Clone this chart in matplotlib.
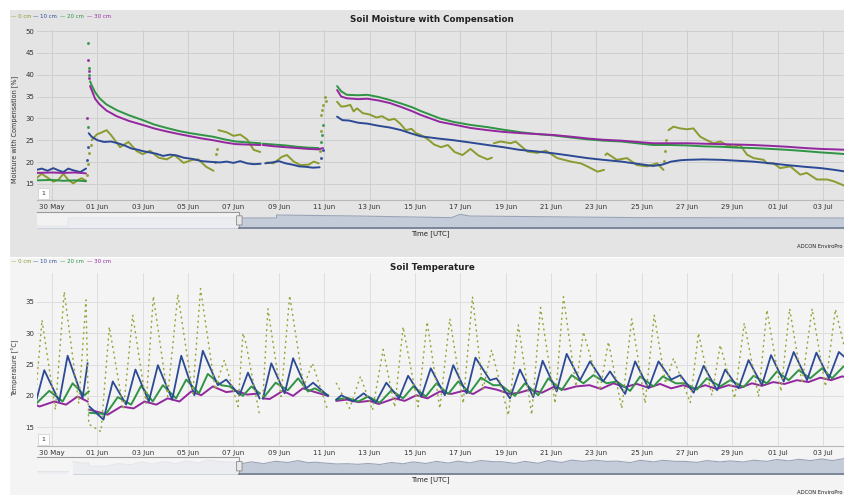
import numpy as np
import matplotlib.pyplot as plt
from matplotlib.patches import Rectangle, FancyBboxPatch

nan = np.nan
W, H = 845, 495

# x axis: days since 30 May 00:00 UTC
tick_days = list(range(0, 35, 2))
tick_labels = ["30 May", "01 Jun", "03 Jun", "05 Jun", "07 Jun", "09 Jun", "11 Jun",
               "13 Jun", "15 Jun", "17 Jun", "19 Jun", "21 Jun", "23 Jun", "25 Jun",
               "27 Jun", "29 Jun", "01 Jul", "03 Jul"]
series_names = ["0 cm", "10 cm", "20 cm", "30 cm"]
series_colors = ["#8c9b30", "#2c4a94", "#2f9444", "#93279f"]

# ---- soil moisture with compensation [%] : (day, value) ----
m0 = [(-0.68, 16.3), (-0.46, 17.3), (-0.16, 16.3), (0.06, 15.5), (0.28, 15.9), (0.5, 17.3),
      (0.72, 15.9), (0.94, 15.1), (1.16, 15.9), (1.31, 16.3), (1.5, 15.7), (nan, nan),
      (1.75, 25.0), (1.97, 26.3), (2.2, 26.8), (2.41, 27.3), (2.63, 26.0), (3.0, 23.4),
      (3.37, 24.6), (3.74, 22.5), (4.0, 21.8), (4.32, 22.6), (4.7, 21.0), (5.06, 20.6),
      (5.4, 21.6), (5.8, 19.8), (6.2, 20.5), (6.45, 20.6), (6.8, 18.9), (7.12, 18.0), (nan, nan),
      (7.34, 27.3), (7.71, 26.8), (8.0, 26.0), (8.3, 26.3), (8.6, 25.2), (8.89, 22.8),
      (9.18, 22.3), (nan, nan),
      (9.47, 19.9), (9.77, 19.7), (10.14, 21.2), (10.36, 21.6), (10.66, 20.1), (10.95, 19.3),
      (11.32, 19.4), (11.54, 20.1), (11.76, 19.7), (nan, nan),
      (12.57, 33.8), (12.75, 32.7), (12.95, 32.8), (13.15, 33.1), (13.3, 31.6), (13.45, 32.3),
      (13.7, 31.2), (14.0, 30.9), (14.3, 30.2), (14.55, 30.5), (14.85, 29.6), (15.1, 29.9),
      (15.35, 28.8), (15.6, 27.3), (15.85, 27.6), (16.05, 26.6), (16.25, 26.2), (16.55, 25.3),
      (16.85, 24.0), (17.15, 23.4), (17.45, 23.9), (17.75, 22.3), (18.1, 21.6), (18.45, 23.0),
      (18.8, 21.5), (19.2, 20.6), (19.4, 21.0), (nan, nan),
      (19.48, 24.3), (19.78, 24.7), (20.22, 24.3), (20.44, 24.7), (20.96, 22.4), (21.4, 22.1),
      (21.77, 22.6), (22.28, 20.9), (22.87, 20.1), (23.31, 19.7), (23.6, 19.0), (24.05, 17.8),
      (24.34, 18.2), (nan, nan),
      (24.4, 21.6), (24.47, 22.0), (24.9, 20.5), (25.35, 20.9), (25.79, 19.3), (26.23, 19.0),
      (26.67, 19.7), (26.96, 18.2), (nan, nan),
      (27.18, 27.3), (27.4, 28.1), (27.7, 27.7), (27.99, 27.5), (28.28, 27.7), (28.58, 25.8),
      (28.87, 25.0), (29.17, 24.3), (29.46, 24.7), (29.75, 23.9), (30.05, 23.5), (30.34, 23.9),
      (30.64, 21.7), (30.93, 20.9), (31.37, 20.5), (31.52, 19.7), (31.81, 19.7), (32.1, 18.6),
      (32.55, 19.0), (32.99, 17.1), (33.28, 17.5), (33.72, 16.0), (34.17, 16.0), (34.46, 15.6),
      (34.97, 14.5)]
m10 = [(-0.68, 18.2), (-0.45, 18.5), (-0.2, 18.0), (0.06, 18.6), (0.28, 18.1), (0.5, 17.7),
       (0.72, 18.5), (0.94, 18.1), (1.25, 17.7), (1.5, 18.5), (nan, nan),
       (1.62, 26.6), (1.75, 25.8), (2.0, 25.0), (2.3, 24.6), (2.6, 24.7), (2.9, 24.3),
       (3.2, 23.8), (3.5, 23.1), (3.8, 22.8), (4.0, 22.5), (4.3, 22.2), (4.6, 21.9), (4.9, 21.4),
       (5.2, 21.7), (5.5, 21.5), (5.8, 21.0), (6.2, 20.7), (6.6, 20.2), (7.1, 20.0), (7.4, 19.9),
       (7.7, 20.1), (8.0, 19.8), (8.3, 20.2), (8.6, 19.7), (8.9, 19.5), (9.2, 19.6), (nan, nan),
       (9.4, 19.7), (9.7, 19.9), (10.0, 20.2), (10.3, 19.7), (10.6, 19.4), (10.9, 19.0),
       (11.2, 18.9), (11.5, 18.7), (11.8, 18.8), (nan, nan),
       (12.57, 30.4), (12.8, 29.6), (13.1, 29.5), (13.5, 29.0), (13.9, 28.8), (14.4, 28.3),
       (14.9, 27.9), (15.4, 27.3), (15.8, 26.6), (16.25, 25.9), (17.0, 25.4), (17.7, 25.0),
       (18.4, 24.5), (19.2, 23.9), (19.9, 23.4), (20.6, 22.8), (21.4, 22.4), (22.1, 22.0),
       (22.8, 21.5), (23.6, 20.9), (24.3, 20.5), (25.1, 20.1), (25.8, 19.6), (26.5, 19.1),
       (26.9, 19.4), (27.3, 20.1), (27.7, 20.4), (28.0, 20.5), (28.7, 20.6), (29.5, 20.5),
       (30.2, 20.3), (30.9, 20.1), (31.7, 19.7), (32.4, 19.3), (33.2, 18.9), (33.9, 18.6),
       (34.5, 18.2), (35.0, 17.8)]
m20 = [(-0.68, 15.8), (0.0, 15.9), (0.5, 15.7), (1.0, 15.8), (1.5, 15.6), (nan, nan),
       (1.68, 38.5), (1.75, 37.6), (1.9, 36.0), (2.1, 34.6), (2.4, 33.2), (2.85, 31.9),
       (3.4, 30.7), (4.0, 29.6), (4.5, 28.6), (5.06, 27.8), (5.6, 27.1), (6.1, 26.6), (6.6, 26.2),
       (7.1, 25.8), (7.6, 25.2), (8.1, 24.7), (8.6, 24.5), (9.2, 24.3), (nan, nan),
       (9.3, 24.2), (9.8, 24.0), (10.3, 23.8), (10.8, 23.5), (11.3, 23.3), (11.75, 23.2), (nan, nan),
       (12.57, 37.4), (12.75, 36.2), (13.0, 35.4), (13.5, 35.3), (13.9, 35.4), (14.4, 34.9),
       (14.9, 34.2), (15.4, 33.4), (15.9, 32.5), (16.25, 31.7), (17.1, 30.0), (17.7, 29.2),
       (18.45, 28.5), (19.2, 28.0), (19.9, 27.4), (20.7, 26.8), (21.4, 26.4), (22.1, 26.1),
       (22.9, 25.6), (23.6, 25.2), (24.3, 24.9), (25.1, 24.7), (25.8, 24.3), (26.5, 23.9),
       (27.3, 23.9), (28.0, 23.8), (28.7, 23.6), (29.5, 23.5), (30.2, 23.3), (30.9, 23.2),
       (31.7, 23.0), (32.4, 22.8), (33.2, 22.5), (33.9, 22.2), (34.5, 22.0), (35.0, 21.8)]
m30 = [(-0.68, 17.5), (0.0, 17.6), (0.5, 17.5), (1.0, 17.6), (1.5, 17.4), (nan, nan),
       (1.68, 37.4), (1.75, 36.5), (1.9, 34.5), (2.1, 33.2), (2.4, 31.8), (2.85, 30.5),
       (3.4, 29.4), (4.0, 28.5), (4.5, 27.7), (5.06, 27.0), (5.6, 26.4), (6.1, 25.9), (6.6, 25.4),
       (7.1, 25.0), (7.6, 24.5), (8.1, 24.1), (8.6, 24.0), (9.2, 23.9), (nan, nan),
       (9.3, 23.9), (9.8, 23.6), (10.3, 23.4), (10.8, 23.2), (11.3, 23.0), (11.75, 22.9),
       (11.95, 23.2), (nan, nan),
       (12.57, 36.5), (12.75, 35.0), (13.0, 34.6), (13.5, 34.4), (13.9, 34.5), (14.4, 34.1),
       (14.9, 33.5), (15.4, 32.6), (15.9, 31.6), (16.25, 30.8), (17.1, 29.2), (17.7, 28.6),
       (18.45, 27.8), (19.2, 27.3), (19.9, 26.9), (20.7, 26.6), (21.4, 26.4), (22.1, 26.2),
       (22.9, 25.8), (23.6, 25.4), (24.3, 25.1), (25.1, 24.9), (25.8, 24.6), (26.5, 24.3),
       (27.3, 24.3), (28.0, 24.3), (28.7, 24.2), (29.5, 24.1), (30.2, 24.0), (30.9, 23.9),
       (31.7, 23.7), (32.4, 23.5), (33.2, 23.2), (33.9, 23.0), (34.5, 22.9), (35.0, 22.8)]
# sparse readings during the rain jumps
m0_jump = [(1.55, 17.0), (1.6, 19.5), (1.65, 22.0), (1.7, 23.8), (7.18, 20.0), (7.22, 21.8),
           (7.27, 23.0), (11.82, 22.5), (11.85, 27.0), (11.88, 30.8), (11.9, 32.0),
           (11.95, 33.0), (12.05, 34.9), (12.1, 34.0), (26.99, 20.2), (27.03, 22.5),
           (27.07, 25.0)]
m10_jump = [(1.55, 20.5), (1.58, 23.5), (11.88, 21.0), (11.95, 22.8)]
m20_jump = [(1.58, 28.0), (1.6, 47.3), (1.62, 41.5), (1.64, 40.0), (11.88, 24.5),
            (11.92, 26.3), (11.97, 28.4)]
m30_jump = [(1.56, 30.0), (1.6, 43.3), (1.62, 40.8), (1.64, 39.2)]

# ---- soil temperature [deg C] : (day, value) ----
t0 = [(-0.72, 20.0), (-0.44, 32.1), (0.15, 17.8), (0.54, 36.6), (1.18, 18.8), (1.5, 35.3),
      (1.62, 15.5), (2.16, 14.3), (2.53, 31.0), (3.15, 17.8), (3.56, 32.9), (4.15, 18.8),
      (4.47, 35.9), (5.1, 19.9), (5.55, 36.2), (6.21, 20.4), (6.55, 37.1), (7.2, 21.0),
      (7.35, 23.0), (7.6, 25.7), (8.2, 18.3), (8.42, 30.0), (8.55, 28.4), (9.15, 17.0), (nan, nan),
      (9.3, 19.9), (9.52, 33.9), (10.1, 19.9), (10.48, 36.0), (11.1, 21.5), (11.48, 25.2),
      (12.15, 17.8), (nan, nan),
      (12.54, 22.0), (13.12, 18.0), (13.6, 23.1), (14.13, 17.7), (14.6, 27.4), (15.11, 18.2),
      (15.48, 31.0), (16.14, 18.3), (16.54, 31.8), (17.1, 18.0), (17.54, 32.3), (18.13, 18.8),
      (18.54, 35.8), (19.0, 21.0), (19.38, 27.3), (20.12, 16.9), (20.56, 31.3), (21.15, 17.0),
      (21.54, 34.1), (22.18, 18.8), (22.55, 35.8), (23.1, 21.5), (23.43, 30.2), (24.16, 20.9),
      (24.53, 28.6), (25.12, 18.0), (25.56, 32.3), (26.15, 18.8), (26.55, 32.9), (27.05, 22.0),
      (27.4, 26.0), (28.14, 18.9), (28.5, 30.0), (29.09, 20.1), (29.46, 28.1), (30.1, 19.6),
      (30.52, 31.6), (31.15, 19.9), (31.52, 33.7), (32.14, 20.7), (32.52, 33.9), (33.07, 22.0),
      (33.51, 33.9), (34.1, 21.5), (34.54, 33.8), (35.0, 26.8)]
t10 = [(-0.74, 18.6), (-0.34, 24.1), (0.32, 19.1), (0.69, 26.4), (1.35, 19.6), (1.57, 25.2),
       (nan, nan),
       (1.65, 18.3), (2.27, 16.2), (2.68, 22.3), (3.27, 18.6), (3.68, 24.2), (4.27, 19.1),
       (4.67, 24.9), (5.3, 19.4), (5.7, 26.4), (6.28, 20.1), (6.65, 27.2), (7.31, 21.7),
       (7.68, 22.6), (8.27, 20.1), (8.64, 23.7), (9.15, 19.6), (nan, nan),
       (9.3, 19.6), (9.67, 25.2), (10.26, 20.4), (10.63, 26.0), (11.21, 21.2), (11.51, 22.1),
       (12.17, 20.0), (nan, nan),
       (12.54, 19.4), (12.76, 20.1), (13.27, 19.1), (13.74, 20.4), (14.27, 18.9), (14.74, 22.1),
       (15.3, 19.6), (15.7, 23.2), (16.29, 19.9), (16.7, 24.4), (17.32, 20.1), (17.69, 24.9),
       (18.28, 20.4), (18.67, 26.1), (19.31, 22.5), (19.6, 22.8), (20.19, 19.6), (20.63, 24.2),
       (21.22, 19.8), (21.63, 25.6), (22.25, 20.7), (22.69, 26.7), (23.28, 22.5), (23.72, 25.5),
       (24.3, 22.3), (24.6, 23.9), (25.27, 20.3), (25.71, 25.5), (26.3, 21.2), (26.74, 25.5),
       (27.3, 22.6), (27.7, 23.3), (28.29, 20.5), (28.73, 24.8), (29.32, 20.9), (29.68, 24.2),
       (30.27, 21.2), (30.71, 25.7), (31.3, 21.7), (31.7, 26.5), (32.26, 22.3), (32.7, 27.0),
       (33.29, 22.5), (33.7, 26.9), (34.25, 22.8), (34.69, 27.0), (35.0, 26.0)]
t20 = [(-0.74, 18.6), (-0.12, 20.8), (0.47, 19.1), (0.91, 22.0), (1.43, 20.1), (1.62, 20.7),
       (nan, nan),
       (1.65, 17.3), (2.38, 17.1), (2.9, 19.8), (3.49, 18.6), (3.93, 21.6), (4.44, 19.1),
       (4.89, 21.7), (5.47, 19.6), (5.92, 22.6), (6.48, 20.4), (6.87, 23.5), (7.46, 21.7),
       (7.83, 21.5), (8.42, 20.0), (8.79, 21.5), (9.15, 20.4), (nan, nan),
       (9.3, 19.6), (9.86, 22.1), (10.4, 20.9), (10.85, 22.8), (11.29, 20.7), (11.58, 21.2),
       (12.17, 20.1), (nan, nan),
       (12.54, 19.4), (13.0, 19.7), (13.5, 19.1), (13.94, 19.9), (14.45, 18.9), (14.97, 20.9),
       (15.48, 19.6), (15.92, 21.5), (16.48, 19.9), (16.95, 22.0), (17.47, 20.3), (17.91, 22.3),
       (18.42, 20.5), (18.91, 22.9), (19.45, 21.7), (19.8, 21.7), (20.41, 20.0), (20.85, 22.0),
       (21.44, 20.1), (21.88, 22.8), (22.47, 20.9), (22.91, 23.3), (23.43, 22.0), (23.87, 23.3),
       (24.46, 22.0), (24.9, 22.3), (25.49, 20.8), (25.93, 23.1), (26.52, 21.5), (26.93, 23.1),
       (27.5, 22.0), (27.9, 22.0), (28.43, 21.0), (28.87, 22.8), (29.46, 21.5), (29.9, 22.5),
       (30.49, 21.4), (30.93, 23.2), (31.52, 22.0), (31.96, 23.9), (32.48, 22.5), (32.92, 24.1),
       (33.43, 22.8), (33.95, 24.4), (34.39, 22.8), (34.9, 24.7), (35.0, 24.6)]
t30 = [(-0.74, 18.6), (-0.55, 18.3), (0.1, 19.1), (0.62, 18.6), (1.13, 19.9), (1.57, 19.1),
       (nan, nan),
       (1.65, 17.8), (2.46, 17.0), (3.05, 18.3), (3.6, 18.0), (4.08, 19.1), (4.6, 18.6),
       (5.1, 19.6), (5.62, 19.1), (6.14, 20.7), (6.58, 20.1), (7.09, 21.5), (7.68, 20.6),
       (8.12, 20.8), (8.6, 20.2), (9.15, 20.4), (nan, nan),
       (9.3, 19.6), (9.6, 19.5), (10.18, 20.8), (10.63, 20.0), (11.06, 21.2), (11.6, 20.6),
       (12.17, 20.0), (nan, nan),
       (12.54, 19.2), (13.0, 19.4), (13.5, 19.0), (14.0, 19.2), (14.4, 18.7), (15.11, 19.6),
       (15.55, 19.2), (16.07, 20.1), (16.55, 19.6), (17.1, 20.7), (17.6, 20.3), (18.13, 20.8),
       (18.57, 20.3), (19.09, 21.4), (19.6, 21.0), (20.19, 20.3), (20.6, 20.5), (21.07, 21.0),
       (21.6, 20.5), (22.1, 21.4), (22.6, 21.0), (23.1, 21.5), (23.7, 21.7), (24.2, 21.1),
       (24.75, 22.0), (25.25, 21.4), (25.78, 21.9), (26.3, 21.3), (26.81, 21.9), (27.3, 21.2),
       (27.84, 21.7), (28.3, 21.1), (28.8, 21.7), (29.3, 21.1), (29.83, 21.7), (30.35, 21.3),
       (30.86, 22.0), (31.3, 21.6), (31.8, 22.2), (32.3, 21.9), (32.84, 22.5), (33.35, 22.2),
       (33.87, 22.9), (34.35, 22.5), (34.83, 23.1), (35.0, 23.0)]

# navigator outlines (0 = bottom, 1 = top of navigator strip)
nav_m_day = [-0.67, 0.72, 0.72, 9.9, 9.9, 13.5, 17.6, 18.0, 18.4, 26.0, 35.0]
nav_m_val = [0.13, 0.13, 0.62, 0.62, 0.80, 0.74, 0.64, 0.84, 0.74, 0.64, 0.62]
nav_t_stub_day = [-0.67, 0.72]
nav_t_stub_val = [12.7, 12.7]

HANDLE_DAY = 8.26
X0, X1 = -0.66, 35.05


def fx(px):
    return px / W


def fy(py):
    return 1 - py / H


def box(left, top, right, bottom):
    return [fx(left), fy(bottom), (right - left) / W, (bottom - top) / H]


def arr(pairs):
    a = np.array(pairs, dtype=float)
    return a[:, 0], a[:, 1]


def style_main(ax, ylim, yticks, bg, grid):
    ax.set_xlim(X0, X1)
    ax.set_ylim(*ylim)
    ax.set_facecolor(bg)
    ax.set_xticks(tick_days)
    ax.set_xticklabels(tick_labels)
    ax.set_yticks(yticks)
    ax.grid(True, color=grid, lw=0.7)
    ax.set_axisbelow(True)
    for s in ("top", "right", "left"):
        ax.spines[s].set_visible(False)
    ax.spines["bottom"].set_color("#b8b8b8")
    ax.spines["bottom"].set_linewidth(0.8)
    ax.tick_params(length=0, labelsize=5, colors="#333333")
    ax.tick_params(axis="x", pad=3)
    ax.tick_params(axis="y", pad=2)


def legend_row(y):
    xs = [11, 33.5, 60, 87]
    for x, name, c in zip(xs, series_names, series_colors):
        fig.text(fx(x), fy(y), "— " + name, color=c, fontsize=3.9, va="center", ha="left")


def navigator(rect, bg, draw):
    nav = fig.add_axes(rect)
    nav.set_xlim(X0, X1)
    nav.set_facecolor(bg)
    nav.set_xticks([])
    nav.set_yticks([])
    for s in nav.spines.values():
        s.set_visible(False)
    draw(nav)
    nav.axvspan(X0, HANDLE_DAY, color="#f6f6f7", alpha=0.8, lw=0, zorder=3)
    nav.plot([X0, HANDLE_DAY, HANDLE_DAY], [1, 1, 0], transform=nav.get_xaxis_transform(),
             color="#9a9a9a", lw=0.8, zorder=4, clip_on=False)
    nav.plot([HANDLE_DAY, X1], [0, 0], transform=nav.get_xaxis_transform(),
             color="#6f7a90", lw=1.2, zorder=4, clip_on=False)
    hb = FancyBboxPatch((HANDLE_DAY - 0.1, 0.2), 0.2, 0.55, boxstyle="round,pad=0.02",
                        transform=nav.get_xaxis_transform(), fc="#e8e8e8", ec="#8a8a8a",
                        lw=0.6, zorder=5, mutation_aspect=0.1)
    nav.add_patch(hb)
    return nav


fig = plt.figure(figsize=(W / 100, H / 100), dpi=100)
fig.patch.set_facecolor("white")
fig.patches.append(Rectangle((fx(10), fy(257)), 1 - fx(10), (257 - 10) / H,
                             transform=fig.transFigure, fc="#e4e4e4", ec="none", zorder=-5))
fig.patches.append(Rectangle((fx(10), fy(495)), 1 - fx(10), (495 - 258) / H,
                             transform=fig.transFigure, fc="#f4f4f4", ec="none", zorder=-5))

# ---------------- top: soil moisture ----------------
ax1 = fig.add_axes(box(37, 30.2, 847, 200))
style_main(ax1, (11.3, 50.2), [15, 20, 25, 30, 35, 40, 45, 50], "#e4e4e4", "#cfcfcf")
for pairs, jump, c in zip([m0, m10, m20, m30], [m0_jump, m10_jump, m20_jump, m30_jump],
                          series_colors):
    x, y = arr(pairs)
    ax1.plot(x, y, color=c, lw=1.4, solid_capstyle="round")
    jx, jy = arr(jump)
    ax1.plot(jx, jy, ls="none", marker="o", ms=1.2, color=c, alpha=0.8)

fig.text(fx(432), fy(20), "Soil Moisture with Compensation", ha="center", va="center",
         fontsize=6.3, fontweight="bold", color="#222222")
legend_row(16.5)
fig.text(fx(15), fy(129), "Moisture with Compensation [%]", rotation=90, ha="center",
         va="center", fontsize=4.7, color="#333333")
fig.text(fx(43.5), fy(193.5), "1", fontsize=4.5, ha="center", va="center", color="#333333",
         bbox=dict(boxstyle="square,pad=0.5", fc="white", ec="#cccccc", lw=0.5))


def draw_nav_m(nav):
    nav.set_ylim(0, 1)
    nav.fill_between(nav_m_day, 0, nav_m_val, color="#c5ccd9", lw=0)
    nav.plot(nav_m_day, nav_m_val, color="#9aa4b8", lw=0.8)


navigator(box(37, 211.7, 847, 228.3), "#e4e4e4", draw_nav_m)
fig.text(fx(430), fy(233.5), "Time [UTC]", ha="center", va="center", fontsize=5,
         color="#222222")
fig.text(fx(843), fy(246.5), "ADCON EnviroPro", ha="right", va="center", fontsize=3.8,
         color="#222222")

# ---------------- bottom: soil temperature ----------------
ax2 = fig.add_axes(box(37, 273, 847, 446))
style_main(ax2, (12.0, 39.6), [15, 20, 25, 30, 35], "#f4f4f4", "#dedede")
x, y = arr(t30)
ax2.plot(x, y, color=series_colors[3], lw=1.4)
x, y = arr(t20)
ax2.plot(x, y, color=series_colors[2], lw=1.4)
x, y = arr(t10)
ax2.plot(x, y, color=series_colors[1], lw=1.3)
x, y = arr(t0)
ax2.plot(x, y, color="#98a63c", lw=1.1, ls=(0, (0.6, 3.0)), dash_capstyle="round")

fig.text(fx(432), fy(267), "Soil Temperature", ha="center", va="center",
         fontsize=6.3, fontweight="bold", color="#222222")
legend_row(261.5)
fig.text(fx(15), fy(368), "Temperature [°C]", rotation=90, ha="center",
         va="center", fontsize=4.7, color="#333333")
fig.text(fx(43.5), fy(439.5), "1", fontsize=4.5, ha="center", va="center", color="#333333",
         bbox=dict(boxstyle="square,pad=0.5", fc="white", ec="#cccccc", lw=0.5))


def draw_nav_t(nav):
    nav.set_ylim(9.1, 26.1)
    d, v = arr(t20)
    keep = ~np.isnan(d) & (d >= 0.72)
    d, v = d[keep], v[keep]
    nav.fill_between(d, 9.1, v, color="#c5ccd9", lw=0)
    nav.plot(d, v, color="#9aa4b8", lw=0.8)
    nav.fill_between(nav_t_stub_day, 9.1, nav_t_stub_val, color="#c5ccd9", lw=0)
    nav.plot(nav_t_stub_day, nav_t_stub_val, color="#9aa4b8", lw=0.8)


navigator(box(37, 457.3, 847, 474.3), "#f4f4f4", draw_nav_t)
fig.text(fx(430), fy(479.5), "Time [UTC]", ha="center", va="center", fontsize=5,
         color="#222222")
fig.text(fx(843), fy(492.5), "ADCON EnviroPro", ha="right", va="center", fontsize=3.8,
         color="#222222")

fig.savefig("out.png", dpi=100)
